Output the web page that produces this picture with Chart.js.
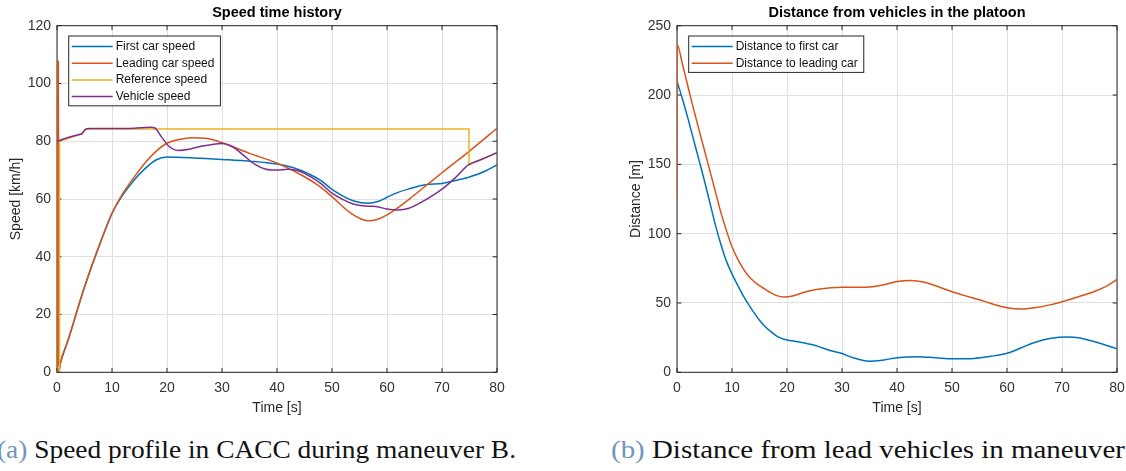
<!DOCTYPE html>
<html>
<head>
<meta charset="utf-8">
<script src="https://cdn.jsdelivr.net/npm/chart.js@4.4.1/dist/chart.umd.min.js"></script>
<style>
  html, body { margin: 0; padding: 0; background: #fff; width: 1126px; height: 471px; overflow: hidden; position: relative; }
  .panel { position: absolute; top: 0; width: 520px; height: 420px; }
  #p1 { left: 0; }
  #p2 { left: 620px; }
  .cap { position: absolute; top: 437px; font-family: "Liberation Serif", "Times New Roman", serif; font-size: 25px; line-height: 25px; white-space: nowrap; color: #111; transform-origin: 0 0; }
  .cap .tag { color: #7393bd; }
</style>
</head>
<body>
<div class="panel" id="p1"><canvas id="speedChart"></canvas></div>
<div class="panel" id="p2"><canvas id="distChart"></canvas></div>
<div class="cap" id="capA"><span class="fit"><span class="tag">(a)</span> Speed profile in CACC during maneuver B.</span></div>
<div class="cap" id="capB"><span class="fit"><span class="tag">(b)</span> Distance from lead vehicles in maneuver</span> B.</div>

<script>
// ---- data: [time s, value] ----
const timeTicks = [0, 10, 20, 30, 40, 50, 60, 70, 80];
const speedTicks = [0, 20, 40, 60, 80, 100, 120];
const distTicks = [0, 50, 100, 150, 200, 250];

const firstCarSpeed = [
  [0.3, 0], [0.6, 3], [2, 11], [5, 29.5], [8, 45.5], [10, 55], [12, 61.5], [14, 66.5],
  [16, 70.5], [18, 73.5], [20, 74.5], [25, 74.2], [30, 73.7], [35, 73.1], [40, 72.1],
  [43, 70.8], [46, 68.5], [48, 66.4], [50, 63.3], [52, 61], [54, 59.3], [56.5, 58.5],
  [58.5, 59.2], [60, 60.6], [62, 62.3], [64, 63.5], [67, 64.9], [70, 65.4], [72, 66.2],
  [75, 67.6], [78, 69.8], [80, 71.8]
];
// start-up transient: the leading car speed jumps up to ~108 km/h before settling
const leadingCarSpeed = [
  [0.02, 0], [0.08, 108], [0.17, 2], [0.26, 108], [0.36, 0], [0.6, 3], [2, 11], [5, 29.5],
  [8, 45.5], [10, 55], [12, 62],
  [14, 67.5], [16, 72.5], [18, 76.5], [20, 79.3], [22, 80.5], [24.5, 81.2], [27, 81],
  [30, 79.5], [35, 75.8], [40, 72.4], [45, 67.7], [48, 64], [50, 60.8], [53.5, 55],
  [56.5, 52.5], [58, 52.8], [60, 54.5], [62, 57], [64, 59.9], [67, 64.5], [70, 69.1],
  [75, 76.6], [80, 84.5]
];
const referenceSpeed = [
  [0.45, 0], [0.45, 80], [4.4, 82.5], [5.3, 84.2], [74.9, 84.2], [74.9, 71.8], [80, 76]
];
const vehicleSpeed = [
  [0, 80], [2, 81.3], [4.2, 82.4], [4.6, 82.6], [5.2, 84.2], [6, 84.4], [10, 84.4],
  [14, 84.5], [17, 84.8], [17.8, 84.6], [19, 81.5], [20.5, 78], [22, 76.8], [24, 77.2],
  [26, 78.2], [28, 78.8], [30, 79.2], [32, 78], [34, 75], [36, 72], [38, 70.3], [40, 70],
  [42, 70.3], [44, 69.7], [46, 67.8], [48, 65.3], [50, 62], [52, 59.8], [54, 58.2],
  [56.5, 57.5], [58, 57.4], [60, 56.5], [62, 56.2], [64, 56.8], [67, 59.7], [70, 63.4],
  [72.5, 67.5], [74.8, 71.8], [77, 73.6], [80, 76]
];

const distFirstCar = [
  [0, 210], [1, 197], [2, 183], [3, 168], [4, 153], [5, 138], [6, 122], [7, 106],
  [8, 92], [9, 80], [10, 71], [11, 63], [12, 55.5], [13, 49], [14, 43], [15, 37.5],
  [16, 33], [17, 29.5], [18, 26.5], [19, 24.5], [20, 23.3], [22, 22], [25, 19.5],
  [28, 15.5], [30, 13.5], [32, 10.5], [35, 8], [37, 8.5], [40, 10.5], [43.5, 11.3],
  [47, 10.5], [50, 9.7], [54, 10], [57, 11.5], [60, 13.7], [62.5, 17.5], [65, 21.5],
  [68, 24.5], [71, 25.5], [73, 25], [76, 22], [78, 19.5], [80, 17]
];
const distLeadingCar = [
  [0, 125], [0.05, 236], [1, 222], [2, 206], [3, 190], [4, 175], [5, 160], [6, 145],
  [7, 130], [8, 115], [9, 102], [10, 90.5], [11, 82], [12, 75], [13, 69.5], [14, 65.5],
  [15, 62.5], [16, 60], [17, 57.5], [18, 55.5], [19.5, 54.3], [21, 55], [23, 57.5],
  [25, 59.5], [28, 61], [30, 61.3], [33, 61.3], [35, 61.5], [38, 63.5], [40, 65.5],
  [42.5, 66.3], [45, 65], [48, 61], [50, 58.1], [53, 54.5], [56, 51], [58, 48.5],
  [60, 46.6], [62.5, 45.6], [65, 46.5], [68, 48.8], [70, 50.9], [73, 54.5], [76, 58.5],
  [78, 62], [80, 67]
];

// ---- styling ----
const BLUE = '#0072BD', ORANGE = '#D95319', YELLOW = '#EDB120', PURPLE = '#7E2F8E';
const AXIS = '#262626';
const SANS = '"Liberation Sans", Arial, Helvetica, sans-serif';

Chart.defaults.font.family = SANS;
Chart.defaults.color = '#333';

const toXY = pts => pts.map(p => ({ x: p[0], y: p[1] }));

// Axes box with inward tick marks (under the data), inset legend (over the data)
const boxAndLegend = {
  id: 'boxAndLegend',
  beforeDatasetsDraw(chart) {
    const { ctx, chartArea: a, scales: { x, y } } = chart;
    const L = 4.4;
    ctx.save();
    ctx.strokeStyle = AXIS;
    ctx.lineWidth = 1;
    ctx.beginPath();
    x.ticks.forEach(t => {
      const px = x.getPixelForValue(t.value);
      ctx.moveTo(px, a.bottom); ctx.lineTo(px, a.bottom - L);
      ctx.moveTo(px, a.top); ctx.lineTo(px, a.top + L);
    });
    y.ticks.forEach(t => {
      const py = y.getPixelForValue(t.value);
      ctx.moveTo(a.left, py); ctx.lineTo(a.left + L, py);
      ctx.moveTo(a.right, py); ctx.lineTo(a.right - L, py);
    });
    ctx.stroke();
    ctx.strokeRect(a.left, a.top, a.right - a.left, a.bottom - a.top);
    ctx.restore();
  },
  afterDatasetsDraw(chart) {
    const { ctx, chartArea: a } = chart;
    const ds = chart.data.datasets;
    const rowH = 16.7;
    const bx = a.left + 11.7, by = a.top + 10.3;
    ctx.save();
    ctx.font = '12px ' + SANS;
    const textX = bx + 47;
    let maxW = 0;
    ds.forEach(d => { maxW = Math.max(maxW, ctx.measureText(d.label).width); });
    const bw = textX + maxW + 6 - bx;
    const bh = ds.length * rowH + 3;
    ctx.fillStyle = '#fff';
    ctx.fillRect(bx, by, bw, bh);
    ctx.strokeStyle = AXIS;
    ctx.lineWidth = 1;
    ctx.strokeRect(bx, by, bw, bh);
    ctx.textBaseline = 'middle';
    ctx.textAlign = 'left';
    ds.forEach((d, i) => {
      const cy = by + 10.5 + i * rowH;
      ctx.strokeStyle = d.borderColor;
      ctx.lineWidth = 1.5;
      ctx.beginPath();
      ctx.moveTo(bx + 3, cy); ctx.lineTo(bx + 44, cy);
      ctx.stroke();
      ctx.fillStyle = '#111';
      ctx.fillText(d.label, textX, cy);
    });
    ctx.restore();
  }
};

function lineSet(label, pts, color, order, straight) {
  return {
    label, data: toXY(pts), borderColor: color, backgroundColor: color,
    borderWidth: 1.5, pointRadius: 0, fill: false, order,
    tension: 0, cubicInterpolationMode: straight ? 'default' : 'monotone'
  };
}

function makeChart(canvasId, title, yTitle, yTicks, datasets) {
  return new Chart(document.getElementById(canvasId), {
    type: 'line',
    data: { datasets },
    plugins: [boxAndLegend],
    options: {
      responsive: true,
      maintainAspectRatio: false,
      animation: false,
      layout: { padding: { left: 0, right: 23, top: 0, bottom: 0 } },
      plugins: {
        legend: { display: false },
        tooltip: { enabled: false },
        title: {
          display: true, text: title, fullSize: false, color: '#000',
          font: { size: 14.5, weight: 'bold' }, padding: { top: 4, bottom: 4.3 }
        }
      },
      scales: {
        x: {
          type: 'linear', min: timeTicks[0], max: timeTicks[timeTicks.length - 1],
          afterBuildTicks: s => { s.ticks = timeTicks.map(v => ({ value: v })); },
          afterFit: s => { s.height = 47.7; },
          border: { display: false },
          grid: { color: '#e0e0e0', lineWidth: 1, drawTicks: false },
          ticks: { padding: 7, color: '#333', font: { size: 14 }, maxRotation: 0, autoSkip: false },
          title: { display: true, text: 'Time [s]', color: '#262626', font: { size: 14 }, padding: { top: 0, bottom: 3.6 } }
        },
        y: {
          type: 'linear', min: yTicks[0], max: yTicks[yTicks.length - 1],
          afterBuildTicks: s => { s.ticks = yTicks.map(v => ({ value: v })); },
          afterFit: s => { s.width = 57; },
          border: { display: false },
          grid: { color: '#e0e0e0', lineWidth: 1, drawTicks: false },
          ticks: { padding: 6, color: '#333', font: { size: 14 }, autoSkip: false },
          title: { display: true, text: yTitle, color: '#262626', font: { size: 14 }, padding: { top: 7.6, bottom: 0 } }
        }
      }
    }
  });
}

makeChart('speedChart', 'Speed time history', 'Speed [km/h]', speedTicks, [
  lineSet('First car speed', firstCarSpeed, BLUE, 4),
  lineSet('Leading car speed', leadingCarSpeed, ORANGE, 3),
  lineSet('Reference speed', referenceSpeed, YELLOW, 2, true),
  lineSet('Vehicle speed', vehicleSpeed, PURPLE, 1)
]);

makeChart('distChart', 'Distance from vehicles in the platoon', 'Distance [m]', distTicks, [
  lineSet('Distance to first car', distFirstCar, BLUE, 2),
  lineSet('Distance to leading car', distLeadingCar, ORANGE, 1)
]);

// captions: serif text stretched to the width of the original typesetting
function fitCaption(id, left, width) {
  const el = document.getElementById(id);
  const w = el.querySelector('.fit').getBoundingClientRect().width;
  el.style.left = left + 'px';
  el.style.transform = 'scaleX(' + (width / w) + ')';
}
fitCaption('capA', -3, 519);
fitCaption('capB', 611, 514);
</script>
</body>
</html>
